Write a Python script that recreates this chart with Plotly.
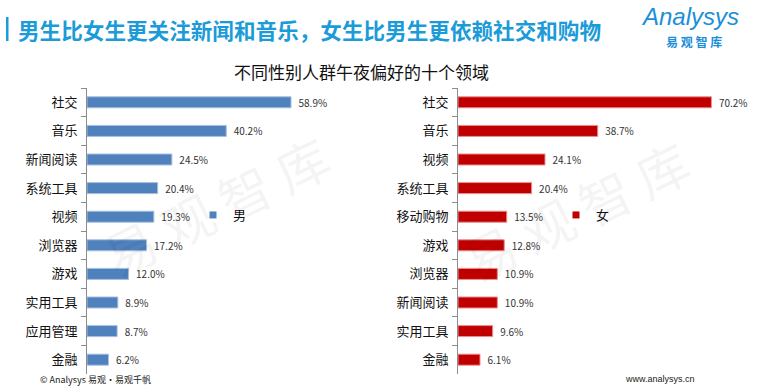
import plotly.graph_objects as go

# ---------------- data ----------------
male_categories = ["社交", "音乐", "新闻阅读", "系统工具", "视频", "浏览器", "游戏", "实用工具", "应用管理", "金融"]
male_values = [58.9, 40.2, 24.5, 20.4, 19.3, 17.2, 12.0, 8.9, 8.7, 6.2]

female_categories = ["社交", "音乐", "视频", "系统工具", "移动购物", "游戏", "浏览器", "新闻阅读", "实用工具", "金融"]
female_values = [70.2, 38.7, 24.1, 20.4, 13.5, 12.8, 10.9, 10.9, 9.6, 6.1]

title_text = "男生比女生更关注新闻和音乐，女生比男生更依赖社交和购物"
subtitle_text = "不同性别人群午夜偏好的十个领域"
male_name = "男"
female_name = "女"

W, H = 761, 391
FONT = "Noto Sans CJK SC, Microsoft YaHei, sans-serif"
BLUE = "#4F81BD"
RED = "#C00000"
TITLE_BLUE = "#1B9BD8"

def px(x):
    return x / W

def py(y):
    return (H - y) / H

fig = go.Figure()

common_bar = dict(
    orientation="h",
    texttemplate="\u00a0\u00a0%{x:.1f}%",
    textposition="outside",
    constraintext="none",
    textfont=dict(size=10, color="#333333", family=FONT),
    cliponaxis=False,
    showlegend=False,
    hoverinfo="skip",
)

fig.add_trace(go.Bar(
    x=male_values, y=male_categories, xaxis="x", yaxis="y",
    marker=dict(color=BLUE, line=dict(color="#a9c0e0", width=1)),
    **common_bar,
))
fig.add_trace(go.Bar(
    x=female_values, y=female_categories, xaxis="x2", yaxis="y2",
    marker=dict(color=RED, line=dict(color="#e89090", width=1)),
    **common_bar,
))

# legend proxies
fig.add_trace(go.Scatter(
    x=[None], y=[None], xaxis="x", yaxis="y", mode="markers", name=male_name,
    marker=dict(symbol="square", size=7, color=BLUE), legend="legend", showlegend=True,
))
fig.add_trace(go.Scatter(
    x=[None], y=[None], xaxis="x2", yaxis="y2", mode="markers", name=female_name,
    marker=dict(symbol="square", size=7, color=RED), legend="legend2", showlegend=True,
))

R = 80
ydom = [py(374), py(88)]

xaxis_common = dict(range=[0, R], visible=False, fixedrange=True)
yaxis_common = dict(
    type="category", autorange="reversed",
    showline=True, linecolor="#8c8c8c", linewidth=1,
    ticks="outside", ticklen=5, tickcolor="#8c8c8c", tickson="boundaries",
    tickfont=dict(size=13, color="#111111", family=FONT),
    ticklabelstandoff=6, fixedrange=True,
    showgrid=False, zeroline=False, domain=ydom,
)

fig.update_layout(
    width=W, height=H,
    margin=dict(l=0, r=0, t=0, b=0),
    paper_bgcolor="white", plot_bgcolor="rgba(0,0,0,0)",
    bargap=0.615,
    font=dict(family=FONT),
    xaxis=dict(domain=[px(87), px(87 + 3.464 * R)], anchor="y", **xaxis_common),
    yaxis=dict(anchor="x", **yaxis_common),
    xaxis2=dict(domain=[px(458), px(458 + 3.61 * R)], anchor="y2", **xaxis_common),
    yaxis2=dict(anchor="x2", **yaxis_common),
    legend=dict(x=px(193), y=py(215), xanchor="left", yanchor="middle",
                font=dict(size=13, color="#111111", family=FONT),
                bgcolor="rgba(0,0,0,0)", itemwidth=30, tracegroupgap=0),
    legend2=dict(x=px(556), y=py(215), xanchor="left", yanchor="middle",
                 font=dict(size=13, color="#111111", family=FONT),
                 bgcolor="rgba(0,0,0,0)", itemwidth=30, tracegroupgap=0),
)

annotations = [
    dict(text=title_text, x=px(16), y=py(30), xanchor="left", yanchor="middle",
         font=dict(size=21.6, color=TITLE_BLUE, family=FONT, weight="bold")),
    dict(text=subtitle_text, x=px(361), y=py(71), xanchor="center", yanchor="middle",
         font=dict(size=17, color="#111111", family=FONT)),
    dict(text="<i>Analysys</i>", x=px(690), y=py(17), xanchor="center", yanchor="middle",
         font=dict(size=24, color="#1A8FD8", family="Liberation Sans, Arial, sans-serif")),
    dict(text="易 观 智 库", x=px(694), y=py(41), xanchor="center", yanchor="middle",
         font=dict(size=12, color="#1A8FD8", family=FONT, weight="bold")),
    dict(text="© Analysys 易观·易观千帆", x=px(38), y=py(379), xanchor="left", yanchor="middle",
         font=dict(size=9, color="#222222", family=FONT)),
    dict(text="www.analysys.cn", x=px(623), y=py(379), xanchor="left", yanchor="middle",
         font=dict(size=9, color="#222222", family="Liberation Sans, Arial, sans-serif")),
    dict(text="易 观 智 库", x=px(215), y=py(205), xanchor="center", yanchor="middle",
         textangle=-26, font=dict(size=52, color="rgba(0,0,0,0.045)", family=FONT)),
    dict(text="易 观 智 库", x=px(575), y=py(210), xanchor="center", yanchor="middle",
         textangle=-26, font=dict(size=52, color="rgba(0,0,0,0.045)", family=FONT)),
]
for a in annotations:
    a.update(xref="paper", yref="paper", showarrow=False)
fig.update_layout(annotations=annotations)

fig.add_shape(type="rect", xref="paper", yref="paper",
              x0=px(6), x1=px(8.5), y0=py(41), y1=py(17),
              fillcolor=TITLE_BLUE, line=dict(width=0))

fig.write_html(
    "out.html",
    config={"displayModeBar": False},
    post_script="document.body.style.margin='0';document.body.style.padding='0';",
)
